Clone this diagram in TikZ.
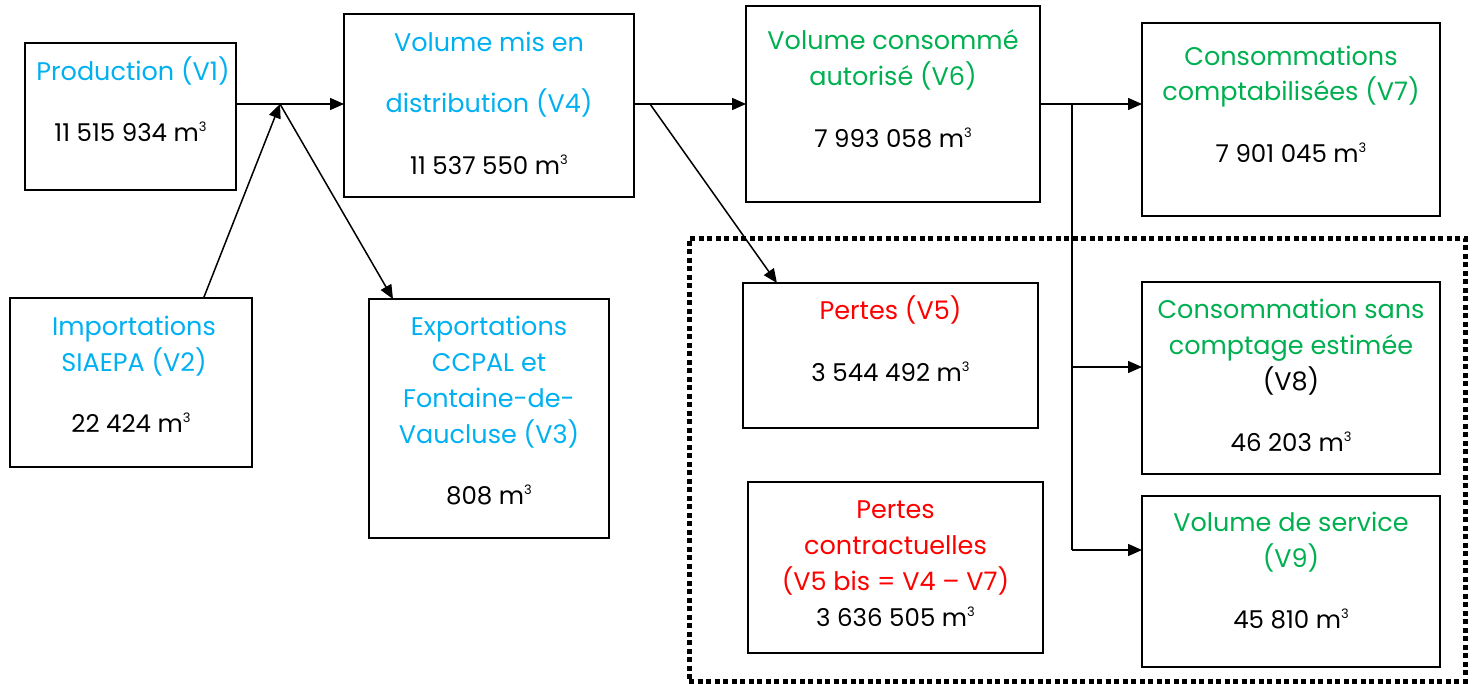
\documentclass[tikz,border=0pt]{standalone}
\usepackage{fontspec}
\setmainfont{Poppins}
\usetikzlibrary{arrows.meta,calc}
\definecolor{cy}{RGB}{0,176,240}
\definecolor{gr}{RGB}{0,176,80}
\definecolor{rd}{RGB}{255,0,0}
\newcommand{\mcube}{m\raisebox{0.75ex}{\fontsize{13}{13}\selectfont 3}}
\begin{document}
\begin{tikzpicture}[x=1pt,y=-1pt,
  box/.style={draw, line width=2pt, inner sep=0pt, outer sep=0pt},
  t/.style={anchor=mid, inner sep=0pt, yshift=-6pt, font=\fontsize{25.5}{30}\selectfont},
  tn/.style={t, font=\fontsize{24.5}{30}\selectfont},
  tc/.style={t, text=cy},
  tg/.style={t, text=gr},
  tr/.style={t, text=rd},
  ln/.style={line width=1.5pt},
  arr/.style={line width=1.5pt, -{Triangle[length=14pt,width=12pt]}},
  dotbox/.style={draw, line width=5pt, dash pattern=on 5pt off 3.5pt}]
\useasboundingbox (0,0) rectangle (1473,683);
% loss area
\node[dotbox, minimum width=776pt, minimum height=443pt, inner sep=0pt] (loss) at (1077,459.5) {};
% boxes
\node[box, minimum width=211pt, minimum height=147pt] (v1) at (130.5,116.5) {};
\node[box, minimum width=290pt, minimum height=183pt] (v4) at (489,105.5) {};
\node[box, minimum width=294pt, minimum height=196pt] (v6) at (893,104) {};
\node[box, minimum width=298pt, minimum height=193pt] (v7) at (1291,119.5) {};
\node[box, minimum width=242pt, minimum height=169pt] (v2) at (131,382.5) {};
\node[box, minimum width=240pt, minimum height=239pt] (v3) at (489,418.5) {};
\node[box, minimum width=295pt, minimum height=145pt] (v5) at (890.5,355.5) {};
\node[box, minimum width=295pt, minimum height=171pt] (v5b) at (895.5,567.5) {};
\node[box, minimum width=298pt, minimum height=192pt] (v8) at (1291,378) {};
\node[box, minimum width=298pt, minimum height=171pt] (v9) at (1291,581.5) {};
% texts
\node[tc] (v1a) at (133,72) {Production (V1)};
\node[tn] (v1n) at (130.5,133) {11 515 934 \mcube};
\node[tc] (v4a) at (489,43) {Volume mis en};
\node[tc] (v4b) at (489,104) {distribution (V4)};
\node[tn] (v4n) at (489,166) {11 537 550 \mcube};
\node[tg] (v6a) at (893,41) {Volume consommé};
\node[tg] (v6b) at (893,77) {autorisé (V6)};
\node[tn] (v6n) at (893,139) {7 993 058 \mcube};
\node[tg] (v7a) at (1291,57) {Consommations};
\node[tg] (v7b) at (1291,92) {comptabilisées (V7)};
\node[tn] (v7n) at (1291,154) {7 901 045 \mcube};
\node[tc] (v2a) at (134,327) {Importations};
\node[tc] (v2b) at (134,363) {SIAEPA (V2)};
\node[tn] (v2n) at (131,424) {22 424 \mcube};
\node[tc] (v3a) at (489,327) {Exportations};
\node[tc] (v3b) at (489,363) {CCPAL et};
\node[tc] (v3c) at (489,399) {Fontaine-de-};
\node[tc] (v3d) at (489,435) {Vaucluse (V3)};
\node[tn] (v3n) at (489,496) {808 \mcube};
\node[tr] (v5a) at (890.5,311) {Pertes (V5)};
\node[tn] (v5n) at (890.5,373) {3 544 492 \mcube};
\node[tr] (v5ba) at (895.5,510) {Pertes};
\node[tr] (v5bb) at (895.5,546) {contractuelles};
\node[tr] (v5bc) at (895.5,582) {(V5 bis = V4 – V7)};
\node[tn] (v5bn) at (895.5,618) {3 636 505 \mcube};
\node[tg] (v8a) at (1291,310) {Consommation sans};
\node[tg] (v8b) at (1291,346) {comptage estimée};
\node[t]  (v8c) at (1291,382) {(V8)};
\node[tn] (v8n) at (1291,443) {46 203 \mcube};
\node[tg] (v9a) at (1291,523) {Volume de service};
\node[tg] (v9b) at (1291,559) {(V9)};
\node[tn] (v9n) at (1291,620) {45 810 \mcube};
% junctions
\coordinate (j1) at (280,104);
\coordinate (j2) at (650,104);
\coordinate (j3) at (1072,104);
\coordinate (k8) at (1072,367);
\coordinate (k9) at (1072,550);
% connectors
\draw[arr] (v1.east |- j1) -- (v4.west |- j1);
\draw[arr] ($(v2.north west)!0.8!(v2.north east)$) -- (j1);
\draw[arr] (j1) -- ($(v3.north west)!0.1!(v3.north east)$);
\draw[arr] (v4.east |- j2) -- (v6.west |- j2);
\draw[arr] (j2) -- ($(v5.north west)!0.115!(v5.north east)$);
\draw[arr] (v6.east |- j3) -- (v7.west |- j3);
\draw[ln] (j3) -- (k9);
\draw[arr] (k8) -- (k8 -| v8.west);
\draw[arr] (k9) -- (k9 -| v9.west);
\end{tikzpicture}
\end{document}
